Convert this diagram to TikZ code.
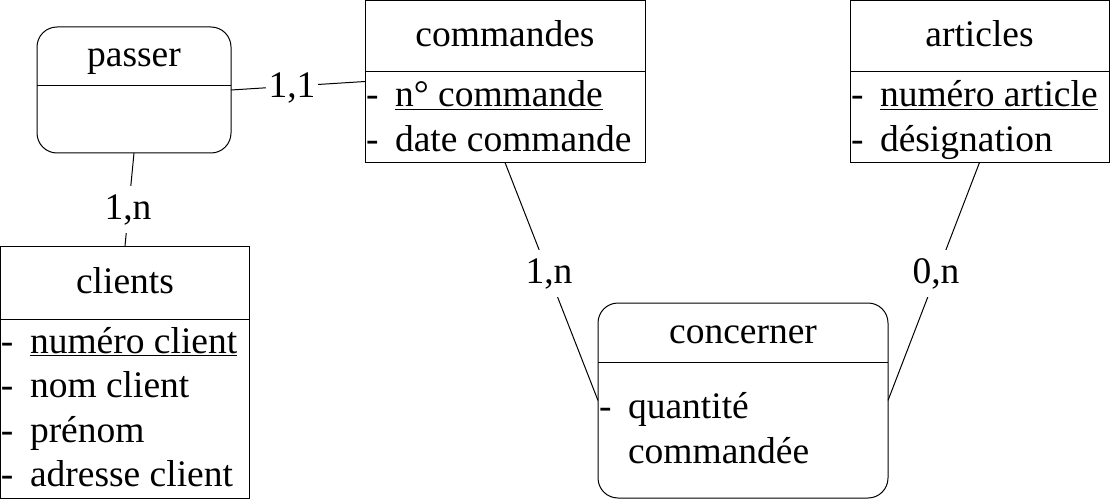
\documentclass[tikz,border=0pt]{standalone}
\usepackage{fontspec}
\setmainfont{Liberation Serif}
\begin{document}
\begin{tikzpicture}[x=1pt,y=-1pt, line width=1pt,
  every node/.style={font=\fontsize{37.5}{45}\selectfont, outer sep=0pt},
  ent/.style={draw, rectangle, inner sep=0pt, anchor=north west},
  rel/.style={ent, rounded corners=20pt},
  txt/.style={inner sep=0pt, anchor=base},
  attr/.style={inner sep=0pt, anchor=base west},
  card/.style={fill=white, inner xsep=3pt, inner ysep=8pt, anchor=base}]
\useasboundingbox (0,0) rectangle (1111,500);
% boxes
\node[rel, minimum width=194pt, minimum height=126pt] (passer) at (37,27) {};
\node[ent, minimum width=280pt, minimum height=162pt] (commandes) at (365,0.5) {};
\node[ent, minimum width=259pt, minimum height=162pt] (articles) at (850,0.5) {};
\node[ent, minimum width=249pt, minimum height=252pt] (clients) at (0.5,246) {};
\node[rel, minimum width=290pt, minimum height=195pt] (concerner) at (598,303) {};
% separators
\draw (37,86) -- (231,86);
\draw (365,72) -- (645,72);
\draw (850,72) -- (1109,72);
\draw (0.5,319) -- (249.5,319);
\draw (598,362) -- (888,362);
% headers
\node[txt] (hpasser) at (134,67) {passer};
\node[txt] (hcommandes) at (505,47) {commandes};
\node[txt] (harticles) at (979.5,47) {articles};
\node[txt] (hclients) at (125,293) {clients};
\node[txt] (hconcerner) at (743,343) {concerner};
% attributes
\node[attr] (d1) at (366,107) {-};
\node[attr] (a1) at (395,107) {\underline{n° commande}};
\node[attr] (d2) at (366,151) {-};
\node[attr] (a2) at (395,151) {date commande};
\node[attr] (d3) at (851,107) {-};
\node[attr] (a3) at (880,107) {\underline{numéro article}};
\node[attr] (d4) at (851,151) {-};
\node[attr] (a4) at (880,151) {désignation};
\node[attr] (d5) at (1,353) {-};
\node[attr] (a5) at (30,353) {\underline{numéro client}};
\node[attr] (d6) at (1,397) {-};
\node[attr] (a6) at (30,397) {nom client};
\node[attr] (d7) at (1,442) {-};
\node[attr] (a7) at (30,442) {prénom};
\node[attr] (d8) at (1,486) {-};
\node[attr] (a8) at (30,486) {adresse client};
\node[attr] (d9) at (599,418) {-};
\node[attr] (a9) at (628,418) {quantité};
\node[attr] (a10) at (628,463) {commandée};
% connectors
\draw (passer.east) -- (commandes.west);
\draw (passer.south) -- (clients.north);
\draw (commandes.south) -- (concerner.west);
\draw (articles.south) -- (concerner.east);
% cardinalities
\node[card] (c1) at (292,98) {1,1};
\node[card] (c2) at (128,219) {1,n};
\node[card] (c3) at (549,283) {1,n};
\node[card] (c4) at (936,283) {0,n};
\end{tikzpicture}
\end{document}
